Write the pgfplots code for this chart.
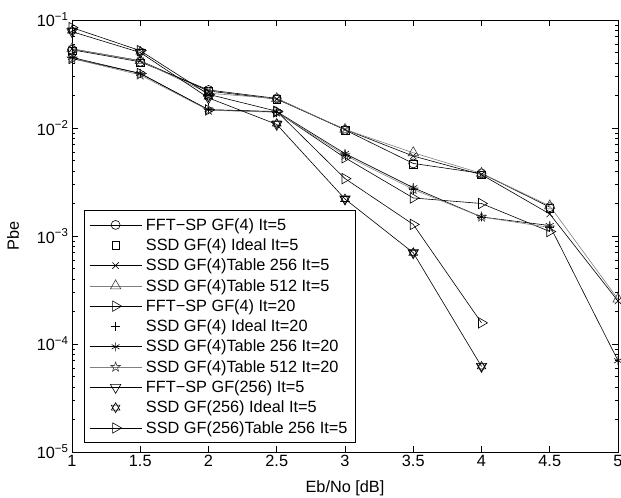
\documentclass[border=0pt]{standalone}
\usepackage{fontspec}
\setmainfont{Liberation Sans}
\usepackage{pgfplots}
\pgfplotsset{compat=1.18}
\usetikzlibrary{plotmarks}

\definecolor{tgray}{rgb}{0.5,0.5,0.5}

% outline hexagram (two triangles)
\pgfdeclareplotmark{hexagram}{%
  \pgfpathmoveto{\pgfpointpolar{90}{\pgfplotmarksize}}%
  \pgfpathlineto{\pgfpointpolar{210}{\pgfplotmarksize}}%
  \pgfpathlineto{\pgfpointpolar{330}{\pgfplotmarksize}}%
  \pgfpathclose
  \pgfpathmoveto{\pgfpointpolar{270}{\pgfplotmarksize}}%
  \pgfpathlineto{\pgfpointpolar{30}{\pgfplotmarksize}}%
  \pgfpathlineto{\pgfpointpolar{150}{\pgfplotmarksize}}%
  \pgfpathclose
  \pgfusepathqstroke}
% outline pentagram
\pgfdeclareplotmark{pentagram}{%
  \pgfpathmoveto{\pgfpointpolar{90}{\pgfplotmarksize}}%
  \pgfpathlineto{\pgfpointpolar{126}{0.4\pgfplotmarksize}}%
  \pgfpathlineto{\pgfpointpolar{162}{\pgfplotmarksize}}%
  \pgfpathlineto{\pgfpointpolar{198}{0.4\pgfplotmarksize}}%
  \pgfpathlineto{\pgfpointpolar{234}{\pgfplotmarksize}}%
  \pgfpathlineto{\pgfpointpolar{270}{0.4\pgfplotmarksize}}%
  \pgfpathlineto{\pgfpointpolar{306}{\pgfplotmarksize}}%
  \pgfpathlineto{\pgfpointpolar{342}{0.4\pgfplotmarksize}}%
  \pgfpathlineto{\pgfpointpolar{18}{\pgfplotmarksize}}%
  \pgfpathlineto{\pgfpointpolar{54}{0.4\pgfplotmarksize}}%
  \pgfpathclose
  \pgfusepathqstroke}

\begin{document}
\begin{tikzpicture}[font=\fontsize{16.3bp}{19bp}\selectfont]
\begin{axis}[
    at={(0,0)}, anchor=south west,
    width=546bp, height=432bp, scale only axis,
    ymode=log,
    xmin=1, xmax=5, ymin=1e-5, ymax=1e-1,
    xtick={1,1.5,2,2.5,3,3.5,4,4.5,5},
    xticklabels={1,1.5,2,2.5,3,3.5,4,4.5,5},
    ytick={1e-5,1e-4,1e-3,1e-2,1e-1},
    yticklabels={10\textsuperscript{−5},10\textsuperscript{−4},10\textsuperscript{−3},10\textsuperscript{−2},10\textsuperscript{−1}},
    tick align=inside,
    major tick length=6bp, minor tick length=3bp,
    every tick/.style={black, line width=0.6bp},
    axis line style={line width=0.8bp},
    xlabel={Eb/No [dB]}, ylabel={Pbe},
    xlabel style={at={(axis description cs:0.5,-0.083)}, anchor=center},
    ylabel style={at={(axis description cs:-0.108,0.5)}, anchor=center},
    every axis plot/.append style={line width=0.6bp, black},
    legend image code/.code={\draw[mark repeat=2,mark phase=2,#1] plot coordinates {(0bp,0bp) (26bp,0bp) (52bp,0bp)};},
    legend cell align=left,
    legend style={at={(axis description cs:0.022,0.021)}, anchor=south west,
        draw=black, line width=0.6bp, inner sep=5bp,
        nodes={inner xsep=3bp, inner ysep=3bp},
        row sep=1bp,
        /tikz/every odd column/.append style={column sep=1bp}},
]
% FFT-SP GF(4) It=5
\addplot[mark=o, mark size=4.5bp] coordinates {(1,0.053) (1.5,0.041) (2,0.0225) (2.5,0.0188) (3,0.0096) (3.5,0.0047) (4,0.0038) (4.5,0.00185)};
% SSD GF(4) Ideal It=5
\addplot[only marks, mark=square, mark size=3.8bp] coordinates {(1,0.052) (1.5,0.040) (2,0.022) (2.5,0.0185) (3,0.0095) (3.5,0.0046) (4,0.0037) (4.5,0.0018)};
% SSD GF(4)Table 256 It=5
\addplot[mark=x, mark size=4.5bp] coordinates {(1,0.054) (1.5,0.042) (2,0.022) (2.5,0.0185) (3,0.0097) (3.5,0.0055) (4,0.0037) (4.5,0.0016) (5,0.00025)};
% SSD GF(4)Table 512 It=5
\addplot[tgray, mark=triangle, mark size=6bp, mark options={black!75}] coordinates {(1,0.054) (1.5,0.042) (2,0.021) (2.5,0.0187) (3,0.0097) (3.5,0.0059) (4,0.0038) (4.5,0.0019) (5,0.00026)};
% FFT-SP GF(4) It=20
\addplot[mark=triangle, mark size=6bp, mark options={rotate=-90}] coordinates {(1,0.044) (1.5,0.032) (2,0.0147) (2.5,0.0141) (3,0.0053) (3.5,0.00225) (4,0.0020) (4.5,0.0011)};
% SSD GF(4) Ideal It=20
\addplot[only marks, mark=+, mark size=4.5bp] coordinates {(1,0.045) (1.5,0.032) (2,0.015) (2.5,0.014) (3,0.0056) (3.5,0.0027) (4,0.0015) (4.5,0.0012)};
% SSD GF(4)Table 256 It=20
\addplot[mark=asterisk, mark size=4.5bp] coordinates {(1,0.045) (1.5,0.032) (2,0.0148) (2.5,0.0142) (3,0.0058) (3.5,0.0028) (4,0.0015) (4.5,0.00125) (5,0.00007)};
% SSD GF(4)Table 512 It=20
\addplot[tgray, mark=pentagram, mark size=5bp, mark options={black!75}] coordinates {(1,0.044) (1.5,0.031) (2,0.0146) (2.5,0.014) (3,0.0056) (3.5,0.0027) (4,0.0015) (4.5,0.0012)};
% FFT-SP GF(256) It=5
\addplot[mark=triangle, mark size=6bp, mark options={rotate=180}] coordinates {(1,0.078) (1.5,0.050) (2,0.019) (2.5,0.0108) (3,0.0022) (3.5,0.0007) (4,0.000062)};
% SSD GF(256) Ideal It=5
\addplot[only marks, mark=hexagram, mark size=5bp] coordinates {(1,0.080) (1.5,0.051) (2,0.0195) (2.5,0.011) (3,0.0022) (3.5,0.0007) (4,0.000062)};
% SSD GF(256)Table 256 It=5
\addplot[mark=triangle, mark size=6bp, mark options={rotate=-90}] coordinates {(1,0.085) (1.5,0.052) (2,0.0205) (2.5,0.0143) (3,0.0034) (3.5,0.00128) (4,0.000157)};
\legend{FFT−SP GF(4) It=5, SSD GF(4) Ideal It=5, SSD GF(4)Table 256 It=5, SSD GF(4)Table 512 It=5, FFT−SP GF(4) It=20, SSD GF(4) Ideal It=20, SSD GF(4)Table 256 It=20, SSD GF(4)Table 512 It=20, FFT−SP GF(256) It=5, SSD GF(256) Ideal It=5, SSD GF(256)Table 256 It=5}
\end{axis}
\pgfresetboundingbox
\path (-72bp,-46bp) rectangle (549bp,452bp);
\end{tikzpicture}
\end{document}
